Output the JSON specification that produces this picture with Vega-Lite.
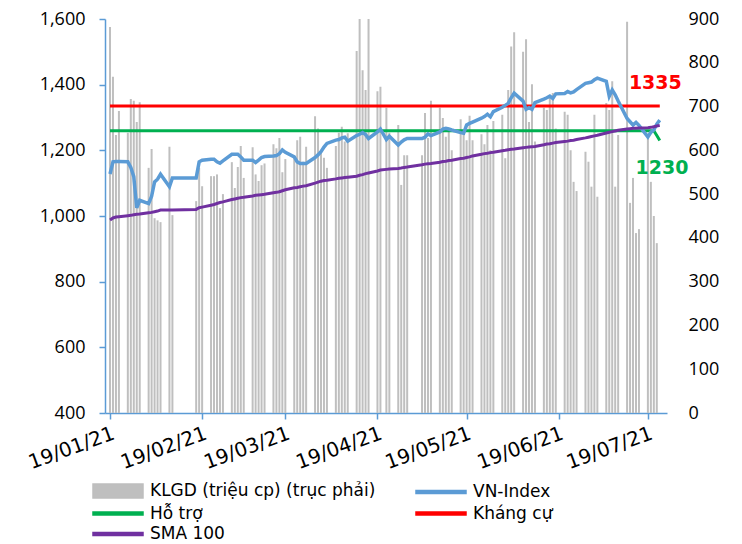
{
"$schema": "https://vega.github.io/schema/vega-lite/v6.json",
"width": 562, "height": 394,
"autosize": {"type": "none"},
"padding": {"left": 105, "top": 19, "right": 75, "bottom": 131},
"config": {"view": {"stroke": null}, "font": "DejaVu Sans", "axis": {"grid": false, "labelColor": "#000000"}},
"data": {"values": [
{"date":"2021-01-19","vol":882,"vni":1128,"sma":988,"ht":1260,"kc":1335},
{"date":"2021-01-20","vol":768,"vni":1165,"sma":994,"ht":1260,"kc":1335},
{"date":"2021-01-21","vol":635,"vni":1166,"sma":997,"ht":1260,"kc":1335},
{"date":"2021-01-22","vol":690,"vni":1166,"sma":998,"ht":1260,"kc":1335},
{"date":"2021-01-25","vol":640,"vni":1165,"sma":1001,"ht":1260,"kc":1335},
{"date":"2021-01-26","vol":717,"vni":1148,"sma":1002,"ht":1260,"kc":1335},
{"date":"2021-01-27","vol":713,"vni":1120,"sma":1004,"ht":1260,"kc":1335},
{"date":"2021-01-28","vol":665,"vni":1025,"sma":1005,"ht":1260,"kc":1335},
{"date":"2021-01-29","vol":710,"vni":1048,"sma":1006,"ht":1260,"kc":1335},
{"date":"2021-02-01","vol":560,"vni":1038,"sma":1010,"ht":1260,"kc":1335},
{"date":"2021-02-02","vol":603,"vni":1060,"sma":1011,"ht":1260,"kc":1335},
{"date":"2021-02-03","vol":445,"vni":1104,"sma":1013,"ht":1260,"kc":1335},
{"date":"2021-02-04","vol":440,"vni":1112,"sma":1015,"ht":1260,"kc":1335},
{"date":"2021-02-05","vol":436,"vni":1127,"sma":1018,"ht":1260,"kc":1335},
{"date":"2021-02-08","vol":608,"vni":1089,"sma":1018,"ht":1260,"kc":1335},
{"date":"2021-02-09","vol":452,"vni":1116,"sma":1018,"ht":1260,"kc":1335},
{"date":"2021-02-17","vol":484,"vni":1116,"sma":1020,"ht":1260,"kc":1335},
{"date":"2021-02-18","vol":560,"vni":1165,"sma":1025,"ht":1260,"kc":1335},
{"date":"2021-02-19","vol":518,"vni":1170,"sma":1027,"ht":1260,"kc":1335},
{"date":"2021-02-22","vol":541,"vni":1173,"sma":1033,"ht":1260,"kc":1335},
{"date":"2021-02-23","vol":541,"vni":1173,"sma":1035,"ht":1260,"kc":1335},
{"date":"2021-02-24","vol":545,"vni":1165,"sma":1038,"ht":1260,"kc":1335},
{"date":"2021-02-25","vol":468,"vni":1161,"sma":1041,"ht":1260,"kc":1335},
{"date":"2021-02-26","vol":500,"vni":1168,"sma":1043,"ht":1260,"kc":1335},
{"date":"2021-03-01","vol":573,"vni":1188,"sma":1050,"ht":1260,"kc":1335},
{"date":"2021-03-02","vol":514,"vni":1188,"sma":1052,"ht":1260,"kc":1335},
{"date":"2021-03-03","vol":562,"vni":1188,"sma":1054,"ht":1260,"kc":1335},
{"date":"2021-03-04","vol":610,"vni":1180,"sma":1056,"ht":1260,"kc":1335},
{"date":"2021-03-05","vol":537,"vni":1170,"sma":1057,"ht":1260,"kc":1335},
{"date":"2021-03-08","vol":607,"vni":1170,"sma":1061,"ht":1260,"kc":1335},
{"date":"2021-03-09","vol":545,"vni":1163,"sma":1063,"ht":1260,"kc":1335},
{"date":"2021-03-10","vol":530,"vni":1170,"sma":1064,"ht":1260,"kc":1335},
{"date":"2021-03-11","vol":566,"vni":1178,"sma":1065,"ht":1260,"kc":1335},
{"date":"2021-03-12","vol":570,"vni":1181,"sma":1066,"ht":1260,"kc":1335},
{"date":"2021-03-15","vol":614,"vni":1183,"sma":1071,"ht":1260,"kc":1335},
{"date":"2021-03-16","vol":605,"vni":1184,"sma":1072,"ht":1260,"kc":1335},
{"date":"2021-03-17","vol":628,"vni":1190,"sma":1074,"ht":1260,"kc":1335},
{"date":"2021-03-18","vol":550,"vni":1201,"sma":1077,"ht":1260,"kc":1335},
{"date":"2021-03-19","vol":580,"vni":1194,"sma":1080,"ht":1260,"kc":1335},
{"date":"2021-03-22","vol":583,"vni":1180,"sma":1086,"ht":1260,"kc":1335},
{"date":"2021-03-23","vol":623,"vni":1165,"sma":1087,"ht":1260,"kc":1335},
{"date":"2021-03-24","vol":631,"vni":1160,"sma":1089,"ht":1260,"kc":1335},
{"date":"2021-03-25","vol":574,"vni":1160,"sma":1091,"ht":1260,"kc":1335},
{"date":"2021-03-26","vol":608,"vni":1160,"sma":1092,"ht":1260,"kc":1335},
{"date":"2021-03-29","vol":678,"vni":1178,"sma":1100,"ht":1260,"kc":1335},
{"date":"2021-03-30","vol":650,"vni":1186,"sma":1103,"ht":1260,"kc":1335},
{"date":"2021-03-31","vol":600,"vni":1196,"sma":1106,"ht":1260,"kc":1335},
{"date":"2021-04-01","vol":583,"vni":1210,"sma":1108,"ht":1260,"kc":1335},
{"date":"2021-04-02","vol":560,"vni":1221,"sma":1109,"ht":1260,"kc":1335},
{"date":"2021-04-05","vol":610,"vni":1231,"sma":1113,"ht":1260,"kc":1335},
{"date":"2021-04-06","vol":640,"vni":1233,"sma":1115,"ht":1260,"kc":1335},
{"date":"2021-04-07","vol":654,"vni":1238,"sma":1116,"ht":1260,"kc":1335},
{"date":"2021-04-08","vol":620,"vni":1240,"sma":1117,"ht":1260,"kc":1335},
{"date":"2021-04-09","vol":639,"vni":1228,"sma":1118,"ht":1260,"kc":1335},
{"date":"2021-04-12","vol":827,"vni":1245,"sma":1121,"ht":1260,"kc":1335},
{"date":"2021-04-13","vol":920,"vni":1249,"sma":1124,"ht":1260,"kc":1335},
{"date":"2021-04-14","vol":783,"vni":1254,"sma":1126,"ht":1260,"kc":1335},
{"date":"2021-04-15","vol":738,"vni":1248,"sma":1129,"ht":1260,"kc":1335},
{"date":"2021-04-16","vol":920,"vni":1236,"sma":1131,"ht":1260,"kc":1335},
{"date":"2021-04-19","vol":735,"vni":1256,"sma":1137,"ht":1260,"kc":1335},
{"date":"2021-04-20","vol":745,"vni":1265,"sma":1140,"ht":1260,"kc":1335},
{"date":"2021-04-22","vol":697,"vni":1233,"sma":1142,"ht":1260,"kc":1335},
{"date":"2021-04-23","vol":640,"vni":1243,"sma":1143,"ht":1260,"kc":1335},
{"date":"2021-04-26","vol":658,"vni":1216,"sma":1145,"ht":1260,"kc":1335},
{"date":"2021-04-27","vol":521,"vni":1225,"sma":1146,"ht":1260,"kc":1335},
{"date":"2021-04-28","vol":589,"vni":1232,"sma":1148,"ht":1260,"kc":1335},
{"date":"2021-04-29","vol":589,"vni":1236,"sma":1149,"ht":1260,"kc":1335},
{"date":"2021-05-04","vol":589,"vni":1236,"sma":1156,"ht":1260,"kc":1335},
{"date":"2021-05-05","vol":685,"vni":1240,"sma":1158,"ht":1260,"kc":1335},
{"date":"2021-05-06","vol":628,"vni":1250,"sma":1159,"ht":1260,"kc":1335},
{"date":"2021-05-07","vol":713,"vni":1245,"sma":1160,"ht":1260,"kc":1335},
{"date":"2021-05-10","vol":697,"vni":1256,"sma":1164,"ht":1260,"kc":1335},
{"date":"2021-05-11","vol":674,"vni":1265,"sma":1166,"ht":1260,"kc":1335},
{"date":"2021-05-12","vol":631,"vni":1267,"sma":1167,"ht":1260,"kc":1335},
{"date":"2021-05-13","vol":651,"vni":1265,"sma":1169,"ht":1260,"kc":1335},
{"date":"2021-05-14","vol":600,"vni":1262,"sma":1170,"ht":1260,"kc":1335},
{"date":"2021-05-17","vol":671,"vni":1254,"sma":1175,"ht":1260,"kc":1335},
{"date":"2021-05-18","vol":640,"vni":1252,"sma":1176,"ht":1260,"kc":1335},
{"date":"2021-05-19","vol":623,"vni":1277,"sma":1178,"ht":1260,"kc":1335},
{"date":"2021-05-20","vol":679,"vni":1282,"sma":1180,"ht":1260,"kc":1335},
{"date":"2021-05-21","vol":623,"vni":1286,"sma":1183,"ht":1260,"kc":1335},
{"date":"2021-05-24","vol":637,"vni":1298,"sma":1188,"ht":1260,"kc":1335},
{"date":"2021-05-25","vol":614,"vni":1303,"sma":1190,"ht":1260,"kc":1335},
{"date":"2021-05-26","vol":658,"vni":1310,"sma":1191,"ht":1260,"kc":1335},
{"date":"2021-05-27","vol":600,"vni":1302,"sma":1193,"ht":1260,"kc":1335},
{"date":"2021-05-28","vol":667,"vni":1318,"sma":1194,"ht":1260,"kc":1335},
{"date":"2021-05-31","vol":681,"vni":1331,"sma":1199,"ht":1260,"kc":1335},
{"date":"2021-06-01","vol":582,"vni":1337,"sma":1200,"ht":1260,"kc":1335},
{"date":"2021-06-02","vol":738,"vni":1343,"sma":1202,"ht":1260,"kc":1335},
{"date":"2021-06-03","vol":837,"vni":1360,"sma":1203,"ht":1260,"kc":1335},
{"date":"2021-06-04","vol":870,"vni":1374,"sma":1204,"ht":1260,"kc":1335},
{"date":"2021-06-07","vol":825,"vni":1350,"sma":1208,"ht":1260,"kc":1335},
{"date":"2021-06-08","vol":854,"vni":1325,"sma":1209,"ht":1260,"kc":1335},
{"date":"2021-06-09","vol":665,"vni":1330,"sma":1210,"ht":1260,"kc":1335},
{"date":"2021-06-10","vol":751,"vni":1325,"sma":1211,"ht":1260,"kc":1335},
{"date":"2021-06-11","vol":620,"vni":1345,"sma":1212,"ht":1260,"kc":1335},
{"date":"2021-06-14","vol":697,"vni":1356,"sma":1217,"ht":1260,"kc":1335},
{"date":"2021-06-15","vol":692,"vni":1360,"sma":1219,"ht":1260,"kc":1335},
{"date":"2021-06-16","vol":726,"vni":1365,"sma":1220,"ht":1260,"kc":1335},
{"date":"2021-06-17","vol":731,"vni":1358,"sma":1222,"ht":1260,"kc":1335},
{"date":"2021-06-18","vol":650,"vni":1372,"sma":1224,"ht":1260,"kc":1335},
{"date":"2021-06-21","vol":688,"vni":1373,"sma":1227,"ht":1260,"kc":1335},
{"date":"2021-06-22","vol":681,"vni":1379,"sma":1228,"ht":1260,"kc":1335},
{"date":"2021-06-23","vol":600,"vni":1375,"sma":1230,"ht":1260,"kc":1335},
{"date":"2021-06-24","vol":528,"vni":1378,"sma":1231,"ht":1260,"kc":1335},
{"date":"2021-06-25","vol":507,"vni":1385,"sma":1233,"ht":1260,"kc":1335},
{"date":"2021-06-28","vol":597,"vni":1404,"sma":1238,"ht":1260,"kc":1335},
{"date":"2021-06-29","vol":574,"vni":1406,"sma":1240,"ht":1260,"kc":1335},
{"date":"2021-06-30","vol":517,"vni":1408,"sma":1242,"ht":1260,"kc":1335},
{"date":"2021-07-01","vol":681,"vni":1415,"sma":1244,"ht":1260,"kc":1335},
{"date":"2021-07-02","vol":494,"vni":1420,"sma":1246,"ht":1260,"kc":1335},
{"date":"2021-07-05","vol":708,"vni":1410,"sma":1253,"ht":1260,"kc":1335},
{"date":"2021-07-06","vol":692,"vni":1365,"sma":1255,"ht":1260,"kc":1335},
{"date":"2021-07-07","vol":758,"vni":1384,"sma":1257,"ht":1260,"kc":1335},
{"date":"2021-07-08","vol":517,"vni":1369,"sma":1259,"ht":1260,"kc":1335},
{"date":"2021-07-09","vol":635,"vni":1350,"sma":1261,"ht":1260,"kc":1335},
{"date":"2021-07-12","vol":894,"vni":1297,"sma":1265,"ht":1260,"kc":1335},
{"date":"2021-07-13","vol":480,"vni":1287,"sma":1266,"ht":1260,"kc":1335},
{"date":"2021-07-14","vol":537,"vni":1277,"sma":1267,"ht":1260,"kc":1335},
{"date":"2021-07-15","vol":411,"vni":1285,"sma":1267,"ht":1260,"kc":1335},
{"date":"2021-07-16","vol":420,"vni":1276,"sma":1268,"ht":1260,"kc":1335},
{"date":"2021-07-19","vol":635,"vni":1241,"sma":1269,"ht":1260,"kc":1335},
{"date":"2021-07-20","vol":528,"vni":1255,"sma":1270,"ht":1260,"kc":1335},
{"date":"2021-07-21","vol":450,"vni":1262,"sma":1272,"ht":1260,"kc":1335},
{"date":"2021-07-22","vol":388,"vni":1280,"sma":1274,"ht":1245,"kc":1335},
{"date":"2021-07-23","vol":null,"vni":1292,"sma":1276,"ht":1230,"kc":1335}
]},
"resolve": {"scale": {"y": "independent"}},
"layer": [
 {
  "mark": {"type": "bar", "width": 2, "clip": true},
  "encoding": {
   "x": {"field": "date", "type": "temporal",
     "scale": {"type": "utc", "domain": [{"year": 2021, "month": 1, "date": 19, "utc": true}, {"year": 2021, "month": 7, "date": 23, "hours": 18, "utc": true}]},
     "axis": {"title": null, "values": [
        {"year": 2021, "month": 1, "date": 19, "utc": true},
        {"year": 2021, "month": 2, "date": 19, "utc": true},
        {"year": 2021, "month": 3, "date": 19, "utc": true},
        {"year": 2021, "month": 4, "date": 19, "utc": true},
        {"year": 2021, "month": 5, "date": 19, "utc": true},
        {"year": 2021, "month": 6, "date": 19, "utc": true},
        {"year": 2021, "month": 7, "date": 19, "utc": true}],
      "format": "%d/%m/%y", "labelAngle": -20, "labelFontSize": 20, "labelFont": "DejaVu Sans",
      "domainColor": "#5B9BD5", "domainWidth": 1.5, "tickColor": "#5B9BD5", "tickWidth": 1.5, "tickSize": 6,
      "labelPadding": 4, "labelOverlap": false, "labelFlush": false}},
   "y": {"field": "vol", "type": "quantitative", "scale": {"domain": [0, 900], "nice": false},
     "axis": {"orient": "right", "title": null, "values": [0,100,200,300,400,500,600,700,800,900], "domain": false, "ticks": false, "labelPadding": 21, "labelFontSize": 18, "labelFont": "Open Sans"}},
   "color": {"datum": "KLGD (triệu cp) (trục phải)", "type": "nominal",
     "scale": {"domain": ["KLGD (triệu cp) (trục phải)", "VN-Index", "Hỗ trợ", "Kháng cự", "SMA 100"], "range": ["#BFBFBF", "#5B9BD5", "#00B050", "#FF0000", "#7030A0"]},
     "legend": {"title": null, "orient": "none", "legendX": -13, "legendY": 461, "columns": 2, "direction": "horizontal",
       "symbolSize": 400, "symbolOffset": 15, "labelOffset": 21, "labelFontSize": 17, "labelFont": "DejaVu Sans", "labelColor": "#000000",
       "rowPadding": 1.5, "columnPadding": 37, "labelLimit": 400,
       "encode": {"symbols": {"update": {
          "shape": [{"test": "datum.value === 'KLGD (triệu cp) (trục phải)'", "value": "M-2.5,-0.7H2.5V0.7H-2.5Z"}, {"value": "M-2.5,-0.15H2.5V0.15H-2.5Z"}],
          "fill": {"scale": "color", "field": "value"},
          "stroke": {"value": "transparent"},
          "opacity": {"value": 1}, "fillOpacity": {"value": 1}}}}}}
  }
 },
 {
  "layer": [
   {"mark": {"type": "line", "strokeWidth": 3, "clip": true},
    "encoding": {"x": {"field": "date", "type": "temporal"},
     "y": {"field": "kc", "type": "quantitative", "scale": {"domain": [400, 1600], "nice": false, "zero": false},
       "axis": {"orient": "left", "title": null, "values": [400,600,800,1000,1200,1400,1600], "format": ",d",
         "domainColor": "#5B9BD5", "domainWidth": 1.5, "tickColor": "#5B9BD5", "tickWidth": 1.5, "tickSize": 6, "labelPadding": 14, "labelFontSize": 18, "labelFont": "Open Sans"}},
     "color": {"datum": "Kháng cự", "type": "nominal"}}},
   {"mark": {"type": "line", "strokeWidth": 3, "clip": true},
    "encoding": {"x": {"field": "date", "type": "temporal"},
     "y": {"field": "ht", "type": "quantitative", "scale": {"domain": [400, 1600], "nice": false, "zero": false}, "axis": {"title": null}},
     "color": {"datum": "Hỗ trợ", "type": "nominal"}}},
   {"mark": {"type": "line", "strokeWidth": 3.5, "clip": true},
    "encoding": {"x": {"field": "date", "type": "temporal"},
     "y": {"field": "vni", "type": "quantitative", "scale": {"domain": [400, 1600], "nice": false, "zero": false}, "axis": {"title": null}},
     "color": {"datum": "VN-Index", "type": "nominal"}}},
   {"mark": {"type": "line", "strokeWidth": 3, "clip": true},
    "encoding": {"x": {"field": "date", "type": "temporal"},
     "y": {"field": "sma", "type": "quantitative", "scale": {"domain": [400, 1600], "nice": false, "zero": false}, "axis": {"title": null}},
     "color": {"datum": "SMA 100", "type": "nominal"}}},
   {"data": {"values": [{"date": "2021-07-21T12:00:00Z", "value": 1335, "label": "1335"}]},
    "mark": {"type": "text", "color": "#FF0000", "fontWeight": "bold", "fontSize": 19, "font": "DejaVu Sans", "dy": -23},
    "encoding": {"x": {"field": "date", "type": "temporal"}, "y": {"field": "value", "type": "quantitative"}, "text": {"field": "label"}}},
   {"data": {"values": [{"date": "2021-07-23T18:00:00Z", "value": 1230, "label": "1230"}]},
    "mark": {"type": "text", "color": "#00B050", "fontWeight": "bold", "fontSize": 19, "font": "DejaVu Sans", "dy": 28},
    "encoding": {"x": {"field": "date", "type": "temporal"}, "y": {"field": "value", "type": "quantitative"}, "text": {"field": "label"}}}
  ]
 }
]
}
